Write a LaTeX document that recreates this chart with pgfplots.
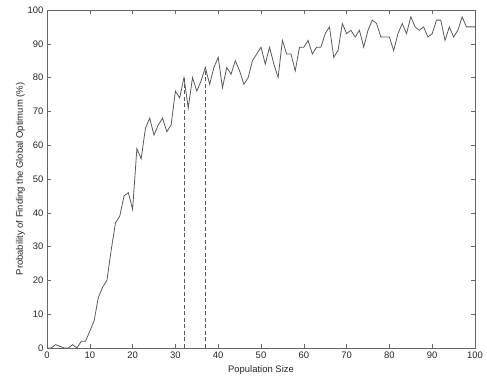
\documentclass[border=0pt]{standalone}
\usepackage{pgfplots}
\pgfplotsset{compat=1.18}
\usepackage{fontspec}
\setmainfont{Liberation Sans}
\begin{document}
\begin{tikzpicture}
\begin{axis}[
  scale only axis,
  width=428bp, height=338bp,
  xmin=0, xmax=100, ymin=0, ymax=100,
  xtick={0,10,...,100}, ytick={0,10,...,100},
  tick align=inside,
  major tick length=4bp,
  axis line style={draw=black!60, line width=0.6pt},
  every tick/.style={draw=black!60},
  tick label style={font=\fontsize{9.5}{11}\selectfont, text=black!85},
  label style={font=\fontsize{9.5}{11}\selectfont, text=black!85},
  /pgf/number format/assume math mode=true,
  xlabel={Population Size},
  ylabel={Probability of Finding the Global Optimum (\%)},
  xlabel style={yshift=-1bp},
  ylabel style={yshift=-4bp},
]
\addplot[black!65, line width=0.8pt] coordinates {
(0,0)(1,0)(2,1)(3,0.5)(4,0)(5,0)(6,1)(7,0)(8,2)(9,2)(10,5)
(11,8)(12,15)(13,18)(14,20)(15,29)(16,37)(17,39)(18,45)(19,46)(20,41)
(21,59)(22,56)(23,65)(24,68)(25,63)(26,66)(27,68)(28,64)(29,66)(30,76)
(31,74)(32,80)(33,71)(34,80)(35,76)(36,79)(37,83)(38,78)(39,83)(40,86)
(41,77)(42,83)(43,81)(44,85)(45,82)(46,78)(47,80)(48,85)(49,87)(50,89)
(51,84)(52,89)(53,84)(54,80)(55,91)(56,87)(57,87)(58,82)(59,89)(60,89)
(61,91)(62,87)(63,89)(64,89)(65,93)(66,95)(67,86)(68,88)(69,96)(70,93)
(71,94)(72,92)(73,94)(74,89)(75,94)(76,97)(77,96)(78,92)(79,92)(80,92)
(81,88)(82,93)(83,96)(84,93)(85,98)(86,95)(87,94)(88,95)(89,92)(90,93)
(91,97)(92,97)(93,91)(94,95)(95,92)(96,94)(97,98)(98,95)(99,95)(100,95)
};
\addplot[black!65, line width=0.7pt, dash pattern=on 4bp off 2.5bp] coordinates {(32,0)(32,80)};
\addplot[black!65, line width=0.7pt, dash pattern=on 4bp off 2.5bp] coordinates {(37,0)(37,83)};
\end{axis}
\path (-47bp,-37bp) rectangle (440bp,348bp);
\end{tikzpicture}
\end{document}
